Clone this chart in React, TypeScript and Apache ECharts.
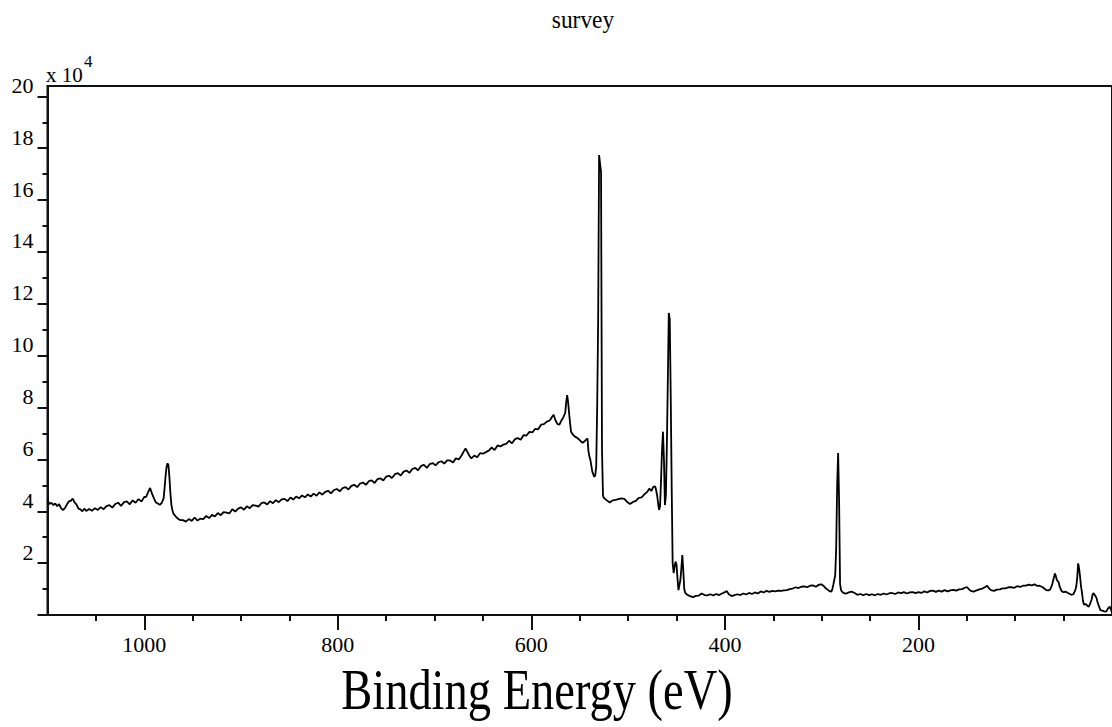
import React, { useEffect, useRef } from "react";
import * as echarts from "echarts";

// ---- Data: binding energy (eV) and intensity (x 10^4 counts) ----
const highEnergyE = [1100,1098,1096,1094,1092,1090,1088,1086,1084,1082,1080,1078,1076,1074,1072,1070,1068,1066,1064,1062,1060,1057,1054,1051,1048,1045,1042,1039,1036,1033,1030,1027,1024,1021,1018,1015,1012,1009,1006,1003,1000,998,996,994,992,990,988,986,984];
const highEnergyI = [4.43,4.28,4.33,4.24,4.30,4.20,4.27,4.12,4.05,4.12,4.26,4.38,4.40,4.49,4.34,4.26,4.10,4.07,4.00,4.10,4.01,4.09,4.02,4.12,4.05,4.16,4.08,4.20,4.24,4.14,4.28,4.33,4.21,4.35,4.38,4.27,4.42,4.33,4.47,4.38,4.55,4.56,4.74,4.90,4.68,4.50,4.34,4.30,4.25];

const oKLLE = [982,980,979,978,977,976,975,974,973,972,971,970,968,966,964,962];
const oKLLI = [4.32,4.50,4.90,5.35,5.70,5.85,5.78,5.30,4.70,4.25,4.05,3.92,3.82,3.74,3.68,3.66];

const backgroundE = [960,957,954,951,948,945,942,939,936,933,930,927,924,921,918,915,912,909,906,903,900,897,894,891,888,885,882,879,876,873,870,867,864,861,858,855,852,849,846,843,840,837,834,831,828,825,822,819,816,813,810,807,804,801,798,795,792,789,786,783,780,777,774,771,768,765,762,759,756,753,750,747,744,741,738,735,732,729,726,723,720,717,714,711,708,705,702,699,696,693,690,687];
const backgroundI = [3.66,3.60,3.70,3.63,3.76,3.64,3.72,3.70,3.82,3.74,3.86,3.80,3.93,3.85,3.97,3.95,3.92,4.08,3.99,4.10,4.15,4.06,4.19,4.12,4.24,4.22,4.18,4.31,4.34,4.26,4.39,4.31,4.43,4.35,4.46,4.48,4.39,4.53,4.45,4.57,4.50,4.61,4.54,4.65,4.57,4.68,4.60,4.73,4.64,4.75,4.79,4.69,4.82,4.86,4.77,4.89,4.93,4.84,4.98,5.02,4.93,5.07,5.11,5.02,5.16,5.19,5.09,5.24,5.27,5.19,5.34,5.37,5.28,5.43,5.47,5.38,5.53,5.57,5.48,5.63,5.67,5.58,5.75,5.79,5.67,5.82,5.86,5.77,5.89,5.93,5.84,5.96];

const tiLMME = [684,681,678,675,672,670,668,666,664,662,659,656,653,650,647,644,641,638,635,632,629,626,623,620,617,614,611,608,605,602,599,596,593,590,587,584,581,579,577,575,573,571,569,567,565,564,563,562,561,560,559,557,555,553,551,549,547,545,543,542,541,540,539,538,537,536,535,534,533];
const tiLMMI = [5.96,5.88,6.04,6.00,6.16,6.30,6.42,6.28,6.14,6.04,6.15,6.08,6.24,6.22,6.28,6.34,6.46,6.36,6.54,6.50,6.57,6.60,6.72,6.62,6.78,6.82,6.76,6.94,6.92,7.06,7.04,7.18,7.16,7.34,7.36,7.46,7.50,7.62,7.72,7.50,7.36,7.34,7.50,7.62,7.80,8.20,8.48,8.20,7.78,7.40,7.07,6.95,6.88,6.84,6.78,6.70,6.64,6.70,6.78,6.80,6.32,6.10,5.98,5.75,5.53,5.42,5.33,5.38,5.72];

const o1sE = [532,531,530,529,528,527,526,525];
const o1sI = [8.00,11.26,17.74,17.40,17.08,6.36,4.60,4.51];

const plateauE = [522,519,516,513,510,507,504,501,498,495,492,489,486,483,480,478,476,474,472,471,470,469,468];
const plateauI = [4.42,4.34,4.42,4.44,4.47,4.50,4.48,4.36,4.28,4.36,4.40,4.52,4.54,4.66,4.76,4.88,4.78,4.94,4.96,4.80,4.60,4.30,4.05];

const ti2pE = [467,466,465,464,463,462,461,460,459,458,457,456,455,454,453,452,451,450,449,448,447,446,445,444,443,442,441,439];
const ti2pI = [4.20,5.20,6.36,7.07,6.00,4.24,4.60,6.50,9.00,11.65,11.40,8.50,4.95,2.00,1.62,1.85,2.06,1.95,1.40,0.96,1.15,1.35,1.80,2.31,1.70,1.00,0.85,0.78];

const midE = [436,433,430,427,424,421,418,415,412,409,406,403,400,398,396,393,390,387,384,381,378,375,372,369,366,363,360,357,354,351,348,345,342,339,336,333,330,327,324,321,318,315,312,309,306,303,300,298,296,294,292,290,289,288,287,286];
const midI = [0.73,0.69,0.74,0.75,0.83,0.77,0.76,0.80,0.75,0.81,0.77,0.83,0.88,0.92,0.80,0.73,0.77,0.80,0.77,0.83,0.79,0.85,0.81,0.87,0.83,0.91,0.87,0.93,0.89,0.93,0.91,0.94,0.93,0.95,0.96,1.00,1.02,1.07,1.04,1.09,1.10,1.07,1.13,1.14,1.09,1.17,1.18,1.12,1.04,0.98,0.92,0.90,1.00,1.16,1.35,1.54];

const c1sE = [285,284,283,282,281,280,279,277];
const c1sI = [2.60,5.00,6.25,4.40,1.20,0.96,0.90,0.84];

const lowEnergyE = [275,272,269,266,263,260,257,254,251,248,245,242,239,236,233,230,227,224,221,218,215,212,209,206,203,200,197,194,191,188,185,182,179,176,173,170,167,164,161,158,155,152,150,148,146,143,140,137,134,131,129,127,125,122,119,116,113,110,107,104,101,98,95,92,89,86,83,80,77,75,72,70,68,66,64,62,60,59,58,57,56,55,54,52,50,48,46,44,42,40,38,37,36,35,34,33,32,31,30,29,27,25,24,23,21,20,19,18,16,15,14,12,10,8,6,4,2,1,0];
const lowEnergyI = [0.82,0.87,0.90,0.85,0.78,0.81,0.76,0.81,0.77,0.80,0.76,0.81,0.78,0.83,0.79,0.84,0.84,0.81,0.87,0.84,0.88,0.83,0.87,0.88,0.84,0.88,0.85,0.91,0.87,0.93,0.94,0.89,0.94,0.90,0.96,0.91,0.95,0.97,0.94,0.99,1.00,1.05,1.08,1.00,0.93,0.90,0.95,0.99,1.02,1.08,1.13,1.02,0.96,0.93,0.98,0.99,1.03,1.03,1.07,1.07,1.05,1.11,1.08,1.13,1.13,1.17,1.14,1.18,1.12,1.13,1.08,1.02,0.96,0.95,0.98,1.15,1.45,1.60,1.50,1.35,1.30,1.25,1.08,0.92,0.88,0.90,0.86,0.82,0.78,0.80,0.95,1.09,1.40,1.99,1.80,1.48,1.10,0.85,0.55,0.40,0.42,0.34,0.32,0.40,0.60,0.80,0.84,0.78,0.66,0.50,0.39,0.19,0.17,0.14,0.13,0.26,0.32,0.20,0.08];

const segments: [number[], number[]][] = [
  [highEnergyE, highEnergyI],
  [oKLLE, oKLLI],
  [backgroundE, backgroundI],
  [tiLMME, tiLMMI],
  [o1sE, o1sI],
  [plateauE, plateauI],
  [ti2pE, ti2pI],
  [midE, midI],
  [c1sE, c1sI],
  [lowEnergyE, lowEnergyI],
];

const majorXTicks = [200, 400, 600, 800, 1000];
const minorXTicks = [50, 100, 150, 250, 300, 350, 450, 500, 550, 650, 700, 750, 850, 900, 950, 1050];
const majorYTicks = [0, 2, 4, 6, 8, 10, 12, 14, 16, 18, 20];
const yLabelValues = [2, 4, 6, 8, 10, 12, 14, 16, 18, 20];
const minorYTicks = [1, 3, 5, 7, 9, 11, 13, 15, 17, 19];

const titleText = "survey";
const xAxisTitle = "Binding Energy (eV)";

const SERIF = "'Liberation Serif', 'Times New Roman', serif";

export default function App() {
  const ref = useRef<HTMLDivElement>(null);

  useEffect(() => {
    if (!ref.current) return;
    const chart = echarts.init(ref.current, null, { renderer: "svg" });
    const data: [number, number][] = [];
    segments.forEach(([es, is]) => {
      es.forEach((e, i) => data.push([e, is[i]]));
    });

    const axisColor = "#111";
    chart.setOption({
      animation: false,
      backgroundColor: "#fff",
      grid: {
        left: 47.5,
        right: 0,
        top: 86,
        bottom: 112,
        show: true,
        borderColor: axisColor,
        borderWidth: 2,
      },
      xAxis: [
        {
          type: "value",
          position: "bottom",
          min: 0,
          max: 1100,
          inverse: true,
          axisLine: { show: true, onZero: false, lineStyle: { color: axisColor, width: 2 } },
          axisTick: {
            show: true,
            customValues: majorXTicks,
            length: 15,
            lineStyle: { color: axisColor, width: 2 },
          },
          axisLabel: {
            customValues: majorXTicks,
            formatter: (v: number) => String(v),
            fontFamily: SERIF,
            fontSize: 22,
            color: "#000",
            margin: 18,
          },
          splitLine: { show: false },
        },
        {
          type: "value",
          position: "bottom",
          min: 0,
          max: 1100,
          inverse: true,
          axisLine: { show: false, onZero: false },
          axisTick: {
            show: true,
            customValues: minorXTicks,
            length: 6,
            lineStyle: { color: axisColor, width: 2 },
          },
          axisLabel: { show: false },
          splitLine: { show: false },
        },
      ],
      yAxis: [
        {
          type: "value",
          position: "left",
          min: 0,
          max: 20.4,
          axisLine: { show: true, onZero: false, lineStyle: { color: axisColor, width: 2 } },
          axisTick: {
            show: true,
            customValues: majorYTicks,
            length: 10,
            lineStyle: { color: axisColor, width: 2 },
          },
          axisLabel: {
            customValues: yLabelValues,
            formatter: (v: number) => String(v),
            fontFamily: SERIF,
            fontSize: 22,
            color: "#000",
            margin: 14,
            verticalAlign: "bottom",
          },
          splitLine: { show: false },
        },
        {
          type: "value",
          position: "left",
          min: 0,
          max: 20.4,
          axisLine: { show: false, onZero: false },
          axisTick: {
            show: true,
            customValues: minorYTicks,
            length: 5,
            lineStyle: { color: axisColor, width: 2 },
          },
          axisLabel: { show: false },
          splitLine: { show: false },
        },
      ],
      series: [
        {
          type: "line",
          data,
          showSymbol: false,
          symbol: "none",
          lineStyle: { color: "#000", width: 1.8 },
          xAxisIndex: 0,
          yAxisIndex: 0,
        },
      ],
      graphic: [
        {
          type: "text",
          x: 583,
          y: 19,
          scaleX: 0.9,
          style: {
            text: titleText,
            fontFamily: SERIF,
            fontSize: 26,
            fill: "#000",
            align: "center",
            verticalAlign: "middle",
          },
        },
        {
          type: "text",
          x: 537,
          y: 690,
          scaleX: 0.83,
          style: {
            text: xAxisTitle,
            fontFamily: SERIF,
            fontSize: 56,
            fill: "#000",
            align: "center",
            verticalAlign: "middle",
          },
        },
        {
          type: "text",
          x: 46,
          y: 75,
          style: {
            text: "x 10",
            fontFamily: SERIF,
            fontSize: 21,
            fill: "#000",
            align: "left",
            verticalAlign: "middle",
          },
        },
        {
          type: "text",
          x: 84,
          y: 61,
          style: {
            text: "4",
            fontFamily: SERIF,
            fontSize: 17,
            fill: "#000",
            align: "left",
            verticalAlign: "middle",
          },
        },
      ],
    });
    return () => chart.dispose();
  }, []);

  return (
    <div
      ref={ref}
      style={{ position: "fixed", left: 0, top: 0, width: 1112, height: 727, background: "#fff" }}
    />
  );
}
